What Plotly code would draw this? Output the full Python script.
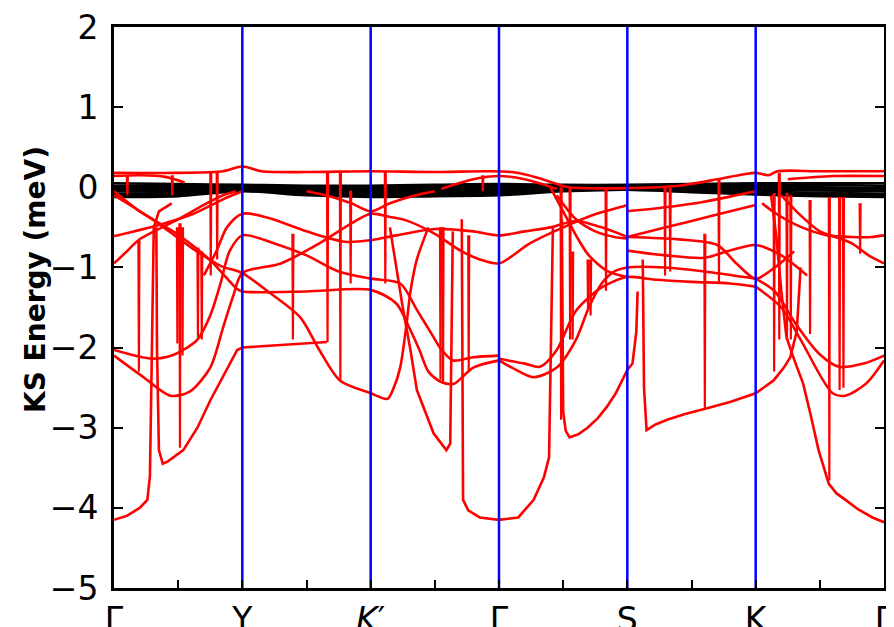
import plotly.graph_objects as go

# ---- high-symmetry path ----
kpos = [0, 1, 2, 3, 4, 5, 6]
klabels = ["Γ", "Y", "<i>K</i>′", "Γ", "S", "K", "Γ"]
minor_k = [0.5, 1.5, 2.5, 3.5, 4.5, 5.5]
y_ticks = [2, 1, 0, -1, -2, -3, -4, -5]

# ---- black (near-zero) bands ----
black_x = [0, 0.5, 1, 1.5, 2, 2.5, 3, 3.5, 4, 4.5, 5, 5.5, 6]
black_1 = [0.05, 0.04, 0.03, 0.02, 0.02, 0.03, 0.04, 0.03, 0.03, 0.04, 0.05, 0.05, 0.05]
black_2 = [0.02, 0.02, 0.02, 0.01, 0.0, 0.01, 0.02, 0.02, 0.02, 0.02, 0.03, 0.03, 0.02]
black_3 = [-0.01, -0.01, 0.0, -0.01, -0.02, -0.01, 0.0, 0.0, 0.01, 0.0, 0.01, 0.0, -0.01]
black_4 = [-0.03, -0.03, -0.01, -0.03, -0.04, -0.03, -0.02, -0.01, 0.0, -0.01, -0.01, -0.02, -0.03]
black_5 = [-0.05, -0.05, -0.02, -0.04, -0.06, -0.05, -0.04, -0.02, -0.01, -0.02, -0.03, -0.04, -0.05]
black_6 = [-0.08, -0.07, -0.03, -0.06, -0.08, -0.07, -0.06, -0.03, -0.02, -0.03, -0.05, -0.07, -0.08]
black_7 = [-0.1, -0.09, -0.04, -0.08, -0.1, -0.09, -0.08, -0.04, -0.03, -0.05, -0.07, -0.09, -0.1]
black_8 = [-0.12, -0.11, -0.05, -0.1, -0.12, -0.11, -0.1, -0.05, -0.03, -0.06, -0.09, -0.11, -0.12]
black_bands = [black_1, black_2, black_3, black_4, black_5, black_6, black_7, black_8]

# ---- red bands (smooth) ----
r01_x = [0, 0.5, 0.85, 1.0, 1.15, 1.5, 2.0, 2.5, 2.9, 3.1, 3.3, 3.45, 3.55, 4.0, 4.4, 4.7, 4.9, 5.0, 5.1, 5.17, 5.5, 6.0]
r01_y = [0.18, 0.18, 0.2, 0.26, 0.2, 0.19, 0.2, 0.19, 0.2, 0.19, 0.12, 0.04, 0.0, -0.01, 0.02, 0.1, 0.16, 0.18, 0.15, 0.2, 0.2, 0.2]
r02_x = [0, 0.2, 0.4, 0.55]
r02_y = [0.14, 0.15, 0.13, 0.06]
r02b_x = [5.25, 5.6, 6.0]
r02b_y = [0.1, 0.14, 0.14]
r03_x = [2.55, 2.8, 3.0, 3.2, 3.45]
r03_y = [-0.02, 0.1, 0.14, 0.1, -0.02]
r04_x = [0, 0.35, 0.62, 0.85, 1.0]
r04_y = [-0.61, -0.47, -0.33, -0.15, -0.05]
r05_x = [0, 0.1, 0.19, 0.35, 0.5, 0.7, 0.85, 0.95]
r05_y = [-0.95, -0.8, -0.66, -0.52, -0.4, -0.22, -0.1, -0.05]
r06_x = [5.05, 5.16, 5.36, 5.56, 5.75, 5.9, 6.0]
r06_y = [-0.2, -0.33, -0.5, -0.6, -0.62, -0.62, -0.6]
r07_x = [5.2, 5.35, 5.5, 5.62, 5.75, 5.88, 6.0]
r07_y = [-0.1, -0.35, -0.55, -0.62, -0.7, -0.85, -0.95]
r08_x = [0, 0.2, 0.49, 0.75, 0.96, 1.0, 1.5, 2.0, 2.2, 2.3, 2.38, 2.45, 2.55, 2.65, 2.8, 3.0]
r08_y = [-0.05, -0.3, -0.58, -0.91, -1.27, -1.3, -1.3, -1.28, -1.45, -1.75, -2.03, -2.3, -2.43, -2.45, -2.25, -2.16]
r09_x = [0, 0.3, 0.6, 0.83, 1.0, 1.2, 1.45, 1.6, 1.76, 2.0, 2.13, 2.18, 2.23, 2.28, 2.31, 2.36, 2.45]
r09_y = [-0.1, -0.4, -0.75, -0.98, -1.07, -1.3, -1.62, -2.03, -2.41, -2.57, -2.64, -2.5, -2.25, -1.7, -1.3, -0.9, -0.5]
r10_x = [0, 0.3, 0.45, 0.54, 0.65, 0.75, 0.83, 0.9, 1.0, 1.25, 1.5, 1.75, 2.0, 2.23, 2.36, 2.49, 2.54, 2.64, 2.8, 3.0]
r10_y = [-2.03, -2.14, -2.1, -2.03, -1.9, -1.6, -1.2, -0.8, -0.6, -0.7, -0.85, -1.05, -1.14, -1.2, -1.53, -1.87, -2.0, -2.16, -2.12, -2.1]
r11_x = [0, 0.23, 0.44, 0.59, 0.75, 0.85, 0.93, 1.0, 1.3, 1.6, 1.85, 2.0, 2.15, 2.27, 2.5, 2.7, 2.85, 3.0, 3.24, 3.5, 3.76, 3.94, 4.0]
r11_y = [-2.1, -2.37, -2.6, -2.55, -2.25, -1.75, -1.35, -1.07, -0.95, -0.7, -0.45, -0.33, -0.37, -0.41, -0.58, -0.79, -0.9, -0.95, -0.7, -0.5, -0.33, -0.25, -0.22]
r12_x = [0.7, 0.8, 0.88, 1.0, 1.2, 1.5, 1.8, 2.0, 2.2, 2.5, 2.8, 3.0, 3.2, 3.4, 3.6, 3.8, 4.0]
r12_y = [-1.1, -0.79, -0.5, -0.33, -0.38, -0.55, -0.68, -0.66, -0.6, -0.52, -0.55, -0.6, -0.55, -0.5, -0.42, -0.5, -0.62]
r17_x = [3.0, 3.2, 3.32, 3.45, 3.6, 3.8, 4.0, 4.2, 4.5, 4.8, 5.0]
r17_y = [-2.14, -2.2, -2.24, -2.03, -1.54, -1.25, -1.12, -1.15, -1.18, -1.2, -1.24]
r18_x = [3.0, 3.1, 3.27, 3.45, 3.6, 3.7, 3.8, 3.9, 4.0, 4.3, 4.6, 5.0]
r18_y = [-2.16, -2.25, -2.37, -2.25, -1.9, -1.5, -1.2, -1.05, -1.0, -1.0, -1.05, -1.14]
r22_x = [5.0, 5.15, 5.31, 5.49, 5.65, 5.84, 6.0]
r22_y = [-1.14, -1.3, -1.7, -2.07, -2.24, -2.2, -2.1]
r23_x = [5.0, 5.2, 5.35, 5.6, 5.7, 5.86, 6.0]
r23_y = [-1.24, -1.5, -1.9, -2.57, -2.6, -2.45, -2.16]
r24_x = [4.0, 4.3, 4.6, 4.8, 5.0, 5.2, 5.4]
r24_y = [-0.79, -0.85, -0.88, -0.79, -0.72, -0.85, -1.1]
r25_x = [4.0, 4.4, 4.7, 4.85, 5.0, 5.15, 5.3]
r25_y = [-0.62, -0.65, -0.72, -0.95, -1.14, -1.0, -0.8]
r26_x = [4.0, 4.3, 4.6, 4.85, 5.0]
r26_y = [-0.62, -0.5, -0.38, -0.28, -0.22]
r27_x = [4.0, 4.3, 4.6, 4.85, 5.0]
r27_y = [-0.3, -0.25, -0.18, -0.1, -0.05]
r29_x = [3.4, 3.5, 3.6, 3.7, 3.85, 4.0]
r29_y = [0.0, -0.3, -0.6, -0.85, -1.05, -1.12]
r30_x = [3.45, 3.6, 3.75, 3.9, 4.0]
r30_y = [-0.1, -0.4, -0.55, -0.62, -0.64]
r32_x = [1.5, 1.7, 1.85, 2.0, 2.15, 2.35, 2.5]
r32_y = [-0.05, -0.12, -0.2, -0.3, -0.2, -0.1, -0.05]

smooth_bands = [(r01_x, r01_y), (r02_x, r02_y), (r02b_x, r02b_y), (r03_x, r03_y),
                (r04_x, r04_y), (r05_x, r05_y), (r06_x, r06_y), (r07_x, r07_y),
                (r08_x, r08_y), (r09_x, r09_y), (r10_x, r10_y), (r11_x, r11_y),
                (r12_x, r12_y), (r17_x, r17_y), (r18_x, r18_y), (r22_x, r22_y),
                (r23_x, r23_y), (r24_x, r24_y), (r25_x, r25_y), (r26_x, r26_y),
                (r27_x, r27_y), (r29_x, r29_y), (r30_x, r30_y), (r32_x, r32_y)]

# ---- red bands with steep drops (drawn piecewise linear) ----
r13_x = [0, 0.1, 0.2, 0.26, 0.28, 0.29, 0.3, 0.31, 0.35, 0.45]
r13_y = [-4.15, -4.1, -4.0, -3.9, -3.6, -2.5, -1.2, -0.5, -0.3, -0.2]
r14_x = [0.33, 0.335, 0.35, 0.38, 0.42, 0.54, 0.65, 0.75, 0.87, 0.96, 1.0, 1.3, 1.66]
r14_y = [-0.5, -2.0, -3.28, -3.45, -3.42, -3.28, -3.0, -2.66, -2.3, -2.03, -2.0, -1.97, -1.93]
r15_x = [2.71, 2.72, 2.76, 2.85, 3.0, 3.15, 3.27, 3.35, 3.39, 3.4, 3.42]
r15_y = [-0.4, -3.9, -4.03, -4.12, -4.15, -4.12, -3.9, -3.62, -3.37, -2.55, -0.5]
r16_x = [2.15, 2.2, 2.25, 2.31, 2.36, 2.49, 2.59, 2.62, 2.63, 2.64]
r16_y = [-0.5, -1.0, -1.5, -2.03, -2.53, -3.07, -3.28, -3.2, -1.5, -0.55]
r19_x = [3.49, 3.5, 3.52, 3.55, 3.62, 3.69, 3.77, 3.84, 3.91, 3.97, 4.0, 4.04, 4.07, 4.08]
r19_y = [-0.4, -2.8, -3.04, -3.12, -3.08, -3.0, -2.88, -2.74, -2.57, -2.37, -2.28, -2.2, -1.8, -1.3]
r20_x = [4.12, 4.13, 4.15, 4.22, 4.31, 4.45, 4.57, 4.8, 5.0, 5.14, 5.22, 5.27, 5.32, 5.35]
r20_y = [-0.9, -2.5, -3.03, -2.96, -2.9, -2.83, -2.78, -2.68, -2.57, -2.41, -2.25, -2.12, -1.8, -1.0]
r21_x = [5.12, 5.16, 5.2, 5.24, 5.3, 5.37, 5.43, 5.49, 5.57, 5.63, 5.7, 5.8, 5.91, 6.0]
r21_y = [-0.1, -0.6, -1.3, -1.87, -2.15, -2.45, -2.85, -3.28, -3.7, -3.82, -3.9, -4.02, -4.12, -4.18]
steep_bands = [(r13_x, r13_y), (r14_x, r14_y), (r15_x, r15_y), (r16_x, r16_y),
               (r19_x, r19_y), (r20_x, r20_y), (r21_x, r21_y)]

# ---- vertical spike artefacts (position, top, bottom) ----
spike_x = [0.10, 0.19, 0.45, 0.49, 0.51, 0.53, 0.65, 0.68, 0.75, 0.80,
           1.39, 1.66, 1.76, 1.84, 2.11, 2.54, 2.56, 2.76, 2.87,
           3.48, 3.55, 3.57, 3.69, 3.71, 3.83, 4.29, 4.33,
           4.60, 4.71,
           5.14, 5.18, 5.24, 5.27, 5.42, 5.57, 5.65, 5.68, 5.81]
spike_top = [0.15, -0.66, 0.15, -0.5, -0.45, -0.5, -0.75, -0.8, 0.2, 0.2,
             -0.58, 0.19, 0.2, -0.04, 0.2, -0.5, -0.5, -0.6, 0.15,
             0.0, 0.0, -0.8, -0.9, -0.9, 0.0, 0.0, 0.0,
             -0.58, 0.11,
             -0.07, 0.18, -0.07, -0.1, -0.16, -0.12, -0.12, -0.12, -0.2]
spike_bot = [-0.1, -2.3, -0.1, -1.95, -3.25, -2.1, -1.87, -1.9, -1.1, -0.9,
             -1.9, -1.93, -2.4, -1.2, -1.2, -2.4, -2.45, -2.3, -0.05,
             -2.9, -1.9, -1.9, -1.54, -1.6, -1.29, -1.1, -1.05,
             -2.76, -1.2,
             -2.3, -1.9, -1.9, -1.9, -1.83, -3.66, -2.53, -2.5, -0.83]

RED = "#ff0000"
fig = go.Figure()

for by in black_bands:
    fig.add_trace(go.Scatter(x=black_x, y=by, mode="lines",
                             line=dict(color="black", width=2.6, shape="spline"),
                             hoverinfo="skip"))

for bx, by in smooth_bands:
    fig.add_trace(go.Scatter(x=bx, y=by, mode="lines",
                             line=dict(color=RED, width=2.6, shape="spline", smoothing=0.8),
                             hoverinfo="skip"))
for bx, by in steep_bands:
    fig.add_trace(go.Scatter(x=bx, y=by, mode="lines",
                             line=dict(color=RED, width=2.6),
                             hoverinfo="skip"))

sx, sy = [], []
for x0, t, b in zip(spike_x, spike_top, spike_bot):
    sx += [x0, x0 + 0.004, x0 + 0.008, None]
    sy += [t, b, t, None]
fig.add_trace(go.Scatter(x=sx, y=sy, mode="lines", line=dict(color=RED, width=2.2),
                         hoverinfo="skip"))

# high-symmetry vertical lines
for p in kpos[1:-1]:
    fig.add_trace(go.Scatter(x=[p, p], y=[y_ticks[-1], y_ticks[0]], mode="lines",
                             line=dict(color="#0000ff", width=2.5), hoverinfo="skip"))

# the page body adds an 8px offset, so the margins compensate for it
fig.update_layout(
    width=894, height=627,
    margin=dict(l=106, r=18, t=19, b=47, autoexpand=False),
    plot_bgcolor="white", paper_bgcolor="white",
    showlegend=False,
    font=dict(family="DejaVu Sans", size=33, color="black"),
    xaxis=dict(range=[0, 6], tickmode="array", tickvals=kpos, ticktext=klabels,
               automargin=False, ticklabeloverflow="allow",
               ticks="inside", ticklen=8, tickwidth=2, tickcolor="black",
               minor=dict(tickvals=minor_k, ticks="inside", ticklen=8, tickwidth=2,
                          tickcolor="black", showgrid=False),
               showline=True, linewidth=3, linecolor="black", mirror=True,
               showgrid=False, zeroline=False, tickfont=dict(size=33, family="DejaVu Sans")),
    yaxis=dict(range=[-5, 2], tickmode="array", tickvals=y_ticks,
               automargin=False, ticklabeloverflow="allow",
               ticks="inside", ticklen=9, tickwidth=2, tickcolor="black",
               showline=True, linewidth=3, linecolor="black", mirror="allticks",
               showgrid=False, zeroline=False, ticklabelstandoff=6,
               tickfont=dict(size=33, family="DejaVu Sans")),
    annotations=[dict(text="<b>KS Energy (meV)</b>", textangle=-90,
                      xref="paper", yref="paper", x=(35 - 114) / 770, y=0.549,
                      xanchor="center", yanchor="middle", showarrow=False,
                      font=dict(size=28, family="DejaVu Sans", color="black"))],
)

fig.write_html("out.html")
